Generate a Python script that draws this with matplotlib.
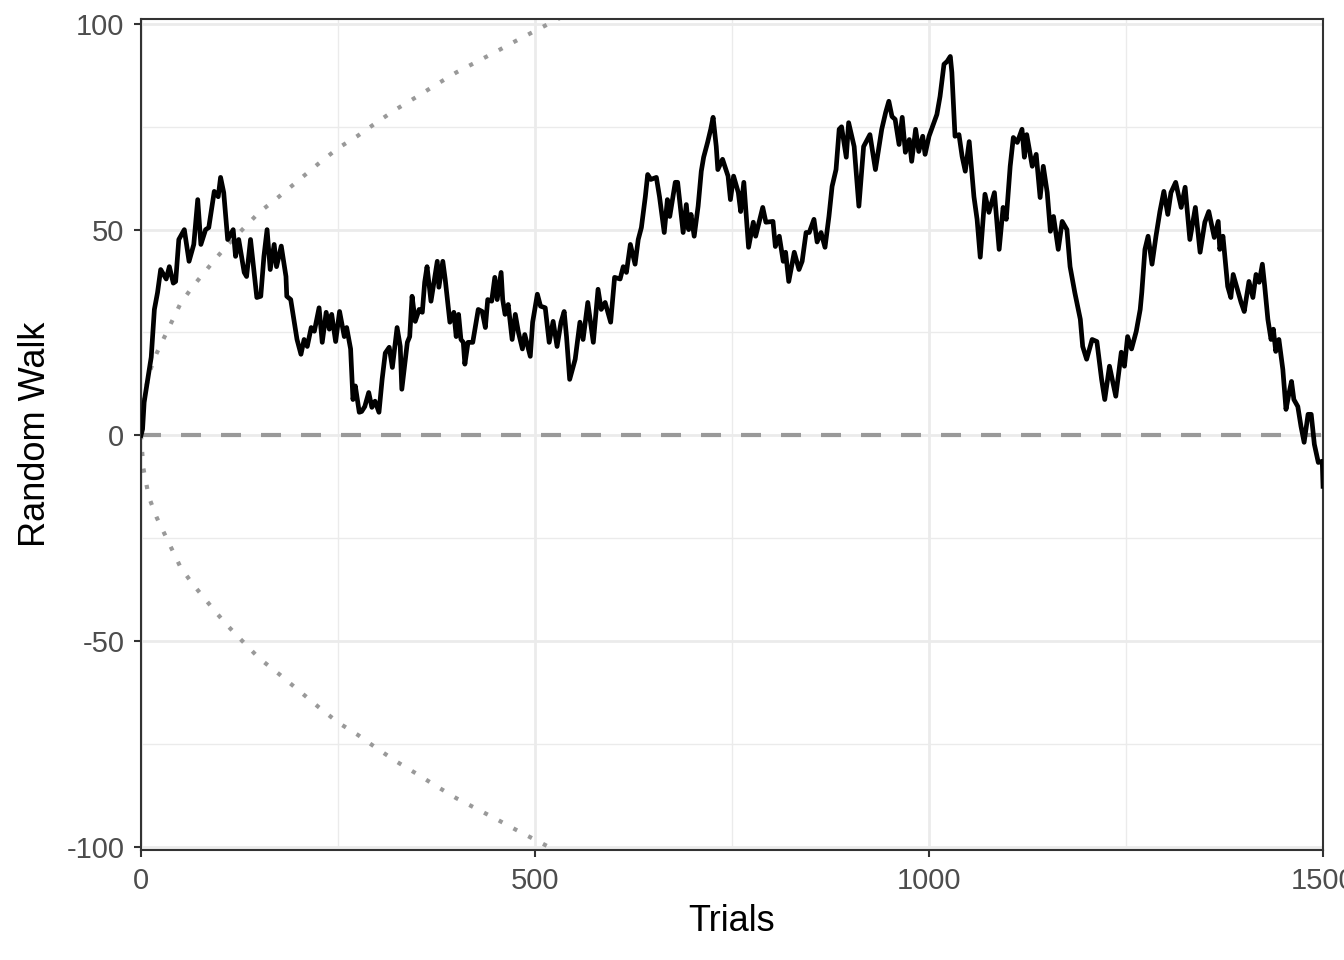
#!/usr/bin/env python3
"""
Random walk over 1500 trials with +/- envelope (theme_bw look)
"""

import matplotlib
matplotlib.use('Agg')
import numpy as np
import matplotlib.pyplot as plt

# walk values: trial index and cumulative sum
walk_trial = [
    0, 2, 4, 6, 13, 17, 21, 25, 32, 36, 41, 44, 48, 55, 61, 67, 72, 76, 82, 86,
    93, 98, 101, 105, 110, 117, 120, 124, 131, 134, 139, 147, 152, 156, 160, 164,
    169, 172, 178, 184, 185, 190, 194, 198, 203, 207, 211, 216, 220, 226, 230,
    235, 239, 242, 247, 252, 258, 261, 266, 269, 272, 277, 280, 284, 289, 293,
    297, 302, 306, 310, 315, 319, 325, 329, 331, 338, 341, 344, 348, 353, 357,
    360, 363, 368, 376, 378, 383, 386, 392, 397, 400, 403, 406, 409, 411, 415,
    421, 428, 433, 437, 440, 445, 449, 452, 457, 459, 462, 466, 471, 475, 479,
    484, 487, 494, 497, 503, 507, 513, 518, 523, 528, 533, 537, 540, 544, 551,
    557, 561, 567, 574, 580, 584, 589, 596, 601, 608, 612, 616, 621, 627, 631,
    635, 640, 643, 647, 654, 658, 664, 668, 671, 678, 681, 688, 692, 695, 698,
    702, 707, 711, 714, 719, 723, 726, 730, 732, 738, 745, 748, 752, 758, 761,
    765, 771, 777, 780, 789, 793, 802, 805, 810, 815, 818, 822, 829, 835, 839,
    844, 848, 854, 858, 863, 868, 873, 877, 882, 886, 889, 895, 898, 905, 911,
    917, 925, 932, 940, 945, 949, 953, 957, 962, 966, 970, 975, 978, 983, 987,
    992, 995, 1000, 1004, 1010, 1014, 1019, 1023, 1027, 1029, 1033, 1038, 1042,
    1046, 1051, 1057, 1061, 1065, 1071, 1076, 1083, 1089, 1094, 1098, 1103,
    1107, 1112, 1118, 1121, 1124, 1131, 1136, 1141, 1145, 1150, 1154, 1158,
    1164, 1169, 1175, 1179, 1185, 1192, 1195, 1200, 1207, 1213, 1219, 1223,
    1229, 1237, 1244, 1248, 1252, 1257, 1263, 1268, 1270, 1274, 1278, 1283,
    1288, 1293, 1298, 1303, 1307, 1313, 1320, 1325, 1331, 1338, 1344, 1350,
    1355, 1362, 1367, 1369, 1373, 1379, 1383, 1386, 1392, 1396, 1400, 1406,
    1411, 1415, 1419, 1423, 1426, 1430, 1434, 1437, 1440, 1444, 1449, 1453,
    1457, 1460, 1463, 1468, 1472, 1476, 1481, 1485, 1489, 1494, 1499, 1500,
]
walk_value = [
    0, 1.5, 8, 10.5, 19, 30.6, 34.7, 40.3, 38, 41, 37, 37.4, 47.6, 50, 42.3,
    46.4, 57.3, 46.4, 50, 50.5, 59.3, 58, 62.7, 59, 47.6, 50, 43.5, 47.6, 39.6,
    38.6, 47.6, 33.5, 33.8, 43.5, 50, 40.3, 46.4, 41, 46, 38.6, 33.8, 33, 28.2,
    23.3, 19.7, 23.3, 21.6, 26.2, 25.3, 31, 22.6, 29.9, 25.8, 29.4, 22.8, 30.1,
    24, 26.2, 21, 8.7, 12, 5.6, 5.8, 7, 10.4, 6.8, 8.3, 5.6, 13.6, 20, 21.4,
    16.5, 26.2, 21.6, 11.2, 22.6, 24, 33.8, 27.7, 30.6, 29.9, 37.2, 41, 32.6,
    42.3, 36, 42.3, 38, 27.5, 29.9, 24, 29.4, 23.3, 22.6, 17.3, 22.6, 22.6,
    30.6, 30.1, 26.2, 33, 32.6, 38.4, 33, 39.6, 33, 29.4, 31.8, 23.3, 29.4, 25,
    21, 24.5, 19.2, 27.5, 34.3, 31.4, 31, 22.6, 27.7, 21.6, 27.5, 30.1, 24,
    13.6, 18.5, 27.5, 23.3, 32.3, 22.6, 35.5, 30.6, 32.3, 27.5, 38.4, 38, 41,
    39.6, 46.4, 41.6, 47.6, 50.5, 58, 63.4, 62.2, 62.7, 58, 49.3, 57.3, 53.2,
    61.5, 61.5, 49.3, 56.1, 50, 53.7, 48.4, 55.7, 64.2, 67.6, 71.2, 74.4, 77.3,
    70.2, 64.6, 67.1, 63, 57.3, 63, 59, 54.4, 61.5, 45.7, 51.8, 48.4, 55.4,
    51.8, 52, 45.9, 48.4, 42.3, 44.5, 37.4, 44.5, 40.3, 42.3, 49.3, 49.3, 52.5,
    47, 49.3, 45.7, 53.2, 60.5, 64.6, 74.4, 75, 67.6, 76, 70.2, 55.7, 70.2,
    73.1, 64.6, 74.4, 78.5, 81.2, 77.5, 76.8, 70.7, 77.3, 68.8, 71.9, 66.6,
    74.4, 69, 72.7, 68.3, 72.7, 74.8, 78, 82.4, 90.2, 90.9, 92.1, 88.2, 72.7,
    73.1, 67.8, 64.2, 71.4, 58, 52.5, 43.3, 58.6, 54.2, 59, 45.2, 55.4, 52.5,
    65.4, 72.4, 71.2, 74.4, 67.6, 73.1, 65.4, 68.3, 57.8, 65.4, 59, 49.6, 53.2,
    45.2, 52, 50, 41, 34.7, 28.2, 21.6, 18.5, 23.3, 22.8, 13.6, 8.7, 16.8, 9.5,
    20.2, 16.8, 24, 21, 25.3, 30.6, 34.7, 45.2, 48.4, 41.6, 48.4, 54.4, 59.3,
    53.7, 59, 61.5, 55.4, 60.3, 47.6, 55.4, 44.5, 51.8, 54.4, 48.1, 52,
    45.2, 48.4, 36.2, 33.5, 39.1, 35, 32.3, 30.1, 37.4, 33.5, 39.1, 37.2, 41.6,
    36.2, 28.2, 23.3, 25.8, 20.4, 23.3, 16, 6.3, 10.4, 13.1, 8.7, 7, 2.2, -1.7,
    5.1, 5.1, -2.2, -6.6, -6.3, -12.4,
]

# envelope
env_trial = [0, 3, 10, 20, 30, 40, 50, 65, 80, 95, 110, 125, 150, 175, 200,
             225, 250, 275, 300, 325, 350, 375, 400, 425, 450, 475, 500, 530,
             560]
env_upper = [0, 8, 15, 20, 24, 28, 32, 36, 39.5, 43, 46.3, 49.3, 54.2, 58, 62,
             66, 69.8, 72.8, 76.2, 79.4, 82.3, 85.3, 88.2, 90.7, 93.2, 95.8,
             98.3, 101.3, 104]
env_lower = [-v for v in env_upper]

GRID = '#EBEBEB'
DARK = '#333333'
TEXT = '#4D4D4D'

plt.rcParams['font.family'] = ['Liberation Sans', 'DejaVu Sans']
plt.rcParams['axes.unicode_minus'] = False

fig = plt.figure(figsize=(13.44, 9.6), dpi=100)
ax = fig.add_axes([0.1049, 0.1146, 0.8795, 0.8656])

ax.plot(env_trial, env_upper, color='#999999', linewidth=3.0,
        linestyle=(0, (1, 3)), zorder=2)
ax.plot(env_trial, env_lower, color='#999999', linewidth=3.0,
        linestyle=(0, (1, 3)), zorder=2)
ax.axhline(0, color='#999999', linewidth=3.0, linestyle=(0, (4.8, 4.8)), zorder=2)
ax.plot(walk_trial, walk_value, color='black', linewidth=3.4,
        solid_joinstyle='round', zorder=3)

ax.set_xlim(0, 1500)
ax.set_ylim(-100.8, 101.2)
ax.set_xticks([0, 500, 1000, 1500])
ax.set_yticks([-100, -50, 0, 50, 100])
ax.set_xticks([250, 750, 1250], minor=True)
ax.set_yticks([-75, -25, 25, 75], minor=True)
ax.grid(True, which='major', color=GRID, linewidth=2.0, zorder=0)
ax.grid(True, which='minor', color=GRID, linewidth=1.0, zorder=0)
ax.set_axisbelow(True)
ax.tick_params(which='minor', length=0)
ax.tick_params(which='major', length=5, width=1.5, color=DARK,
               labelsize=21, labelcolor=TEXT, pad=7)

for sp in ax.spines.values():
    sp.set_color(DARK)
    sp.set_linewidth(1.5)

ax.set_xlabel('Trials', fontsize=26, color='black', va='center')
ax.set_ylabel('Random Walk', fontsize=26, color='black', va='center')
ax.xaxis.set_label_coords(0.5, -0.0866)
ax.yaxis.set_label_coords(-0.0896, 0.5)

fig.savefig('out.png', dpi=100)
